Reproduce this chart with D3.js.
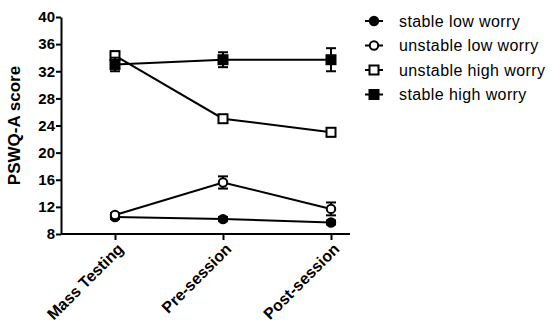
<!DOCTYPE html>
<html>
<head>
<meta charset="utf-8">
<script src="https://cdn.jsdelivr.net/npm/d3@7"></script>
<style>
  body { margin: 0; background: #fff; }
  text { font-family: "Liberation Sans", Arial, sans-serif; }
</style>
</head>
<body>
<div id="chart"></div>
<script>
const timepoints = ["Mass Testing", "Pre-session", "Post-session"];
const seriesNames = ["stable low worry", "unstable low worry", "unstable high worry", "stable high worry"];
const stableLow = [10.5, 10.2, 9.7];
const stableLowErr = [0.3, 0.3, 0.3];
const unstableLow = [10.8, 15.6, 11.7];
const unstableLowErr = [0.3, 0.9, 0.95];
const unstableHigh = [34.3, 25.0, 23.0];
const unstableHighErr = [0.6, 0.5, 0.6];
const stableHigh = [33.0, 33.7, 33.7];
const stableHighErr = [1.0, 1.1, 1.7];
const yTicks = [8, 12, 16, 20, 24, 28, 32, 36, 40];

const width = 552, height = 333;
const margin = {left: 61, top: 17, right: 202, bottom: 99};

const svg = d3.select("#chart").append("svg")
    .attr("width", width)
    .attr("height", height);

const x = d3.scalePoint()
    .domain(timepoints)
    .range([115, 331]);

const y = d3.scaleLinear()
    .domain([8, 40])
    .range([height - margin.bottom, margin.top]);

// axes
const yAxis = svg.append("g")
    .attr("transform", `translate(${margin.left},0)`)
    .call(d3.axisLeft(y).tickValues(yTicks).tickSize(5).tickSizeOuter(0));
yAxis.select(".domain").attr("stroke-width", 2);
yAxis.selectAll(".tick line").attr("stroke-width", 2);
yAxis.selectAll("text")
    .style("font-size", "15px")
    .style("font-weight", "bold")
    .attr("x", -6);

const xAxis = svg.append("g")
    .attr("transform", `translate(0,${y(8)})`)
    .call(d3.axisBottom(x).tickSize(6).tickSizeOuter(0));
xAxis.select(".domain").attr("d", `M${margin.left},0H350`).attr("stroke-width", 2);
xAxis.selectAll(".tick line").attr("stroke-width", 2);
xAxis.selectAll("text")
    .style("font-size", "16px")
    .style("font-weight", "bold")
    .attr("text-anchor", "end")
    .attr("dy", 0)
    .attr("y", 0)
    .attr("transform", "translate(9,16) rotate(-45)");

svg.append("text")
    .attr("transform", `translate(20,${(y(8) + y(40)) / 2}) rotate(-90)`)
    .attr("text-anchor", "middle")
    .style("font-size", "17px")
    .style("font-weight", "bold")
    .text("PSWQ-A score");

// series
const series = [
    {name: seriesNames[0], values: stableLow, errs: stableLowErr, shape: "circle", fill: "#000"},
    {name: seriesNames[1], values: unstableLow, errs: unstableLowErr, shape: "circle", fill: "#fff"},
    {name: seriesNames[2], values: unstableHigh, errs: unstableHighErr, shape: "square", fill: "#fff"},
    {name: seriesNames[3], values: stableHigh, errs: stableHighErr, shape: "square", fill: "#000"}
];

const line = d3.line()
    .x((d, i) => x(timepoints[i]))
    .y(d => y(d));

function drawMarker(g, shape, fill) {
    if (shape === "circle") {
        g.append("circle").attr("r", 4.2)
            .attr("fill", fill).attr("stroke", "#000").attr("stroke-width", 2);
    } else {
        g.append("rect").attr("x", -4.5).attr("y", -4.5)
            .attr("width", 9).attr("height", 9)
            .attr("fill", fill).attr("stroke", "#000").attr("stroke-width", 2);
    }
}

series.forEach(s => {
    svg.append("path")
        .datum(s.values)
        .attr("d", line)
        .attr("fill", "none")
        .attr("stroke", "#000")
        .attr("stroke-width", 2);

    s.values.forEach((v, i) => {
        const cx = x(timepoints[i]);
        const eg = svg.append("g").attr("stroke", "#000").attr("stroke-width", 2);
        eg.append("line").attr("x1", cx).attr("x2", cx).attr("y1", y(v - s.errs[i])).attr("y2", y(v + s.errs[i]));
        eg.append("line").attr("x1", cx - 5).attr("x2", cx + 5).attr("y1", y(v - s.errs[i])).attr("y2", y(v - s.errs[i]));
        eg.append("line").attr("x1", cx - 5).attr("x2", cx + 5).attr("y1", y(v + s.errs[i])).attr("y2", y(v + s.errs[i]));
        const mg = svg.append("g").attr("transform", `translate(${cx},${y(v)})`);
        drawMarker(mg, s.shape, s.fill);
    });
});

// legend
const legend = svg.append("g").attr("transform", "translate(365,21)");
series.forEach((s, i) => {
    const row = legend.append("g").attr("transform", `translate(0,${i * 24.5})`);
    row.append("line").attr("x1", 0).attr("x2", 18).attr("y1", 0).attr("y2", 0)
        .attr("stroke", "#000").attr("stroke-width", 2);
    const mg = row.append("g").attr("transform", "translate(9,0)");
    drawMarker(mg, s.shape, s.fill);
    row.append("text")
        .attr("x", 34)
        .attr("y", 0)
        .attr("dy", "0.35em")
        .style("font-size", "16px")
        .style("letter-spacing", "0.4px")
        .text(s.name);
});
</script>
</body>
</html>
